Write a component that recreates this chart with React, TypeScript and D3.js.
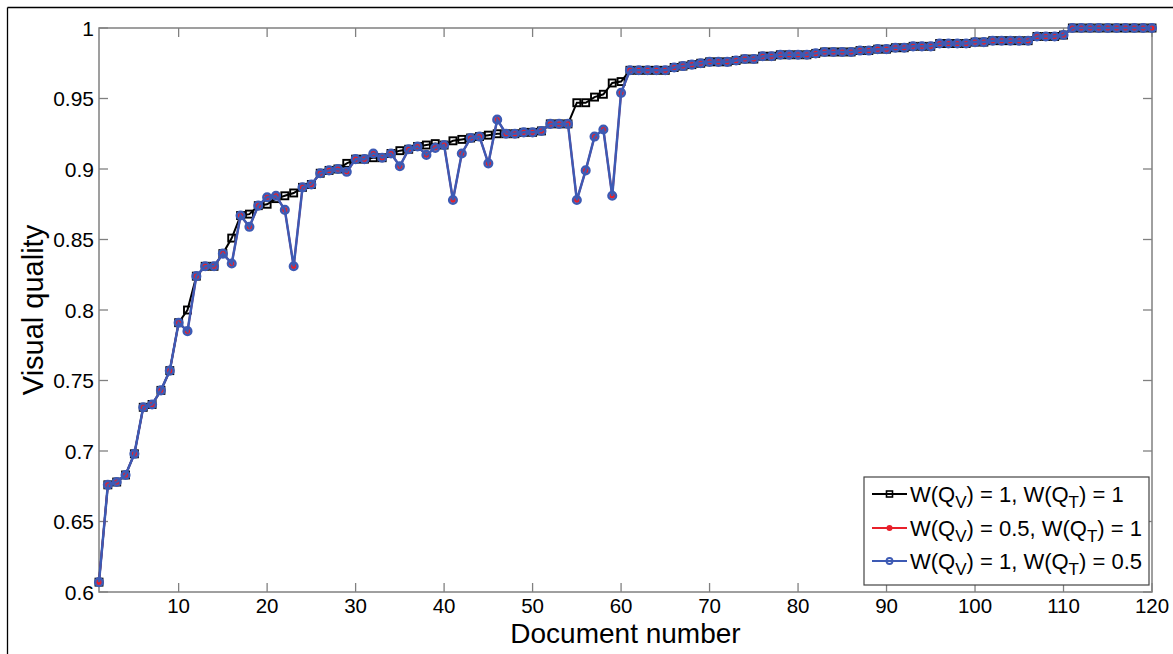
import React from "react";
import * as d3 from "d3";

const documentNumbers: number[] = Array.from({ length: 120 }, (_, i) => i + 1);

const qualityEqual: number[] = [
  0.607, 0.676, 0.678, 0.683, 0.698, 0.731, 0.733, 0.743, 0.757, 0.791,
  0.800, 0.824, 0.831, 0.831, 0.840, 0.851, 0.867, 0.868, 0.874, 0.875,
  0.879, 0.881, 0.883, 0.887, 0.889, 0.897, 0.899, 0.900, 0.904, 0.907,
  0.907, 0.908, 0.908, 0.911, 0.913, 0.914, 0.916, 0.917, 0.918, 0.917,
  0.920, 0.921, 0.922, 0.923, 0.924, 0.925, 0.925, 0.925, 0.926, 0.926,
  0.927, 0.932, 0.932, 0.932, 0.947, 0.947, 0.951, 0.953, 0.961, 0.962,
  0.970, 0.970, 0.970, 0.970, 0.970, 0.972, 0.973, 0.974, 0.975, 0.976,
  0.976, 0.976, 0.977, 0.978, 0.978, 0.980, 0.980, 0.981, 0.981, 0.981,
  0.981, 0.982, 0.983, 0.983, 0.983, 0.983, 0.984, 0.984, 0.985, 0.985,
  0.986, 0.986, 0.987, 0.987, 0.987, 0.989, 0.989, 0.989, 0.989, 0.990,
  0.990, 0.991, 0.991, 0.991, 0.991, 0.991, 0.994, 0.994, 0.994, 0.995,
  1.000, 1.000, 1.000, 1.000, 1.000, 1.000, 1.000, 1.000, 1.000, 1.000,
];

const qualityHalfV: number[] = [
  0.607, 0.676, 0.678, 0.683, 0.698, 0.731, 0.733, 0.743, 0.757, 0.791,
  0.785, 0.824, 0.831, 0.831, 0.840, 0.833, 0.867, 0.859, 0.874, 0.880,
  0.881, 0.871, 0.831, 0.887, 0.889, 0.897, 0.899, 0.900, 0.898, 0.907,
  0.907, 0.911, 0.908, 0.911, 0.902, 0.914, 0.916, 0.910, 0.915, 0.917,
  0.878, 0.911, 0.922, 0.923, 0.904, 0.935, 0.925, 0.925, 0.926, 0.926,
  0.927, 0.932, 0.932, 0.932, 0.878, 0.899, 0.923, 0.928, 0.881, 0.954,
  0.970, 0.970, 0.970, 0.970, 0.970, 0.972, 0.973, 0.974, 0.975, 0.976,
  0.976, 0.976, 0.977, 0.978, 0.978, 0.980, 0.980, 0.981, 0.981, 0.981,
  0.981, 0.982, 0.983, 0.983, 0.983, 0.983, 0.984, 0.984, 0.985, 0.985,
  0.986, 0.986, 0.987, 0.987, 0.987, 0.989, 0.989, 0.989, 0.989, 0.990,
  0.990, 0.991, 0.991, 0.991, 0.991, 0.991, 0.994, 0.994, 0.994, 0.995,
  1.000, 1.000, 1.000, 1.000, 1.000, 1.000, 1.000, 1.000, 1.000, 1.000,
];

const qualityHalfT: number[] = [
  0.607, 0.676, 0.678, 0.683, 0.698, 0.731, 0.733, 0.743, 0.757, 0.791,
  0.785, 0.824, 0.831, 0.831, 0.840, 0.833, 0.867, 0.859, 0.874, 0.880,
  0.881, 0.871, 0.831, 0.887, 0.889, 0.897, 0.899, 0.900, 0.898, 0.907,
  0.907, 0.911, 0.908, 0.911, 0.902, 0.914, 0.916, 0.910, 0.915, 0.917,
  0.878, 0.911, 0.922, 0.923, 0.904, 0.935, 0.925, 0.925, 0.926, 0.926,
  0.927, 0.932, 0.932, 0.932, 0.878, 0.899, 0.923, 0.928, 0.881, 0.954,
  0.970, 0.970, 0.970, 0.970, 0.970, 0.972, 0.973, 0.974, 0.975, 0.976,
  0.976, 0.976, 0.977, 0.978, 0.978, 0.980, 0.980, 0.981, 0.981, 0.981,
  0.981, 0.982, 0.983, 0.983, 0.983, 0.983, 0.984, 0.984, 0.985, 0.985,
  0.986, 0.986, 0.987, 0.987, 0.987, 0.989, 0.989, 0.989, 0.989, 0.990,
  0.990, 0.991, 0.991, 0.991, 0.991, 0.991, 0.994, 0.994, 0.994, 0.995,
  1.000, 1.000, 1.000, 1.000, 1.000, 1.000, 1.000, 1.000, 1.000, 1.000,
];

const xTicks: number[] = [10, 20, 30, 40, 50, 60, 70, 80, 90, 100, 110, 120];
const yTicks: number[] = [0.6, 0.65, 0.7, 0.75, 0.8, 0.85, 0.9, 0.95, 1];
const yTickLabels: string[] = ["0.6", "0.65", "0.7", "0.75", "0.8", "0.85", "0.9", "0.95", "1"];

const legendLabels = [
  { v: "1", t: "1" },
  { v: "0.5", t: "1" },
  { v: "1", t: "0.5" },
];

const W = 1173;
const H = 654;
const L = 99, R = 1152, T = 28, B = 592;
const FONT = "'Liberation Sans', Arial, Helvetica, sans-serif";
const AXIS = "#808080";
const BLACK = "#000000";
const RED = "#e8202a";
const BLUE = "#3d5ab4";

export default function App() {
  const x = d3.scaleLinear().domain([1, 120]).range([L, R]);
  const y = d3.scaleLinear().domain([0.6, 1]).range([B, T]);
  const line = d3
    .line<number>()
    .x((_, i) => x(documentNumbers[i]))
    .y((d) => y(d));

  const tickLen = 9;

  const legendX = 864, legendY = 477, legendW = 285, legendH = 108;
  const rowsY = [494, 528, 561];

  return (
    <svg
      width={W}
      height={H}
      style={{ position: "absolute", left: 0, top: 0, background: "#fff" }}
      fontFamily={FONT}
    >
      <rect x={0} y={0} width={W} height={H} fill="#fff" />
      {/* outer frame */}
      <line x1={7.5} y1={7.5} x2={7.5} y2={H} stroke="#000" strokeWidth={1.3} />
      <line x1={7.5} y1={7.5} x2={W} y2={7.5} stroke="#000" strokeWidth={1.3} />

      {/* axes box */}
      <rect x={L} y={T} width={R - L} height={B - T} fill="#fff" stroke={AXIS} strokeWidth={1.5} />
      {xTicks.map((t) => (
        <g key={"xt" + t}>
          <line x1={x(t)} x2={x(t)} y1={B} y2={B - tickLen} stroke={AXIS} strokeWidth={1.3} />
          <line x1={x(t)} x2={x(t)} y1={T} y2={T + tickLen} stroke={AXIS} strokeWidth={1.3} />
          <text x={x(t)} y={613} textAnchor="middle" fontSize={20.5} fill="#000">
            {t}
          </text>
        </g>
      ))}
      {yTicks.map((t, i) => (
        <g key={"yt" + t}>
          <line x1={L} x2={L + tickLen} y1={y(t)} y2={y(t)} stroke={AXIS} strokeWidth={1.3} />
          <line x1={R} x2={R - tickLen} y1={y(t)} y2={y(t)} stroke={AXIS} strokeWidth={1.3} />
          <text x={94} y={y(t) + 7.5} textAnchor="end" fontSize={21} fill="#000">
            {yTickLabels[i]}
          </text>
        </g>
      ))}

      <text x={(L + R) / 2} y={643} textAnchor="middle" fontSize={28} fill="#000">
        Document number
      </text>
      <text
        transform={`translate(43, ${(T + B) / 2}) rotate(-90)`}
        textAnchor="middle"
        fontSize={29}
        fill="#000"
      >
        Visual quality
      </text>

      {/* black series */}
      <path d={line(qualityEqual) || ""} fill="none" stroke={BLACK} strokeWidth={2} />
      {qualityEqual.map((v, i) => (
        <rect
          key={"bk" + i}
          x={x(documentNumbers[i]) - 3.5}
          y={y(v) - 3.5}
          width={7}
          height={7}
          fill="none"
          stroke={BLACK}
          strokeWidth={1.9}
        />
      ))}

      {/* red series */}
      <path d={line(qualityHalfV) || ""} fill="none" stroke={RED} strokeWidth={2} />
      {qualityHalfV.map((v, i) => (
        <circle key={"rd" + i} cx={x(documentNumbers[i])} cy={y(v)} r={3} fill={RED} />
      ))}

      {/* blue series */}
      <path d={line(qualityHalfT) || ""} fill="none" stroke={BLUE} strokeWidth={2.5} />
      {qualityHalfT.map((v, i) => (
        <circle
          key={"bl" + i}
          cx={x(documentNumbers[i])}
          cy={y(v)}
          r={3.8}
          fill="none"
          stroke={BLUE}
          strokeWidth={2.5}
        />
      ))}

      {/* legend */}
      <rect x={legendX} y={legendY} width={legendW} height={legendH} fill="#fff" stroke="#444" strokeWidth={1.2} />
      {legendLabels.map((lab, i) => {
        const cy = rowsY[i];
        const color = i === 0 ? BLACK : i === 1 ? RED : BLUE;
        return (
          <g key={"lg" + i}>
            <line x1={872} x2={907} y1={cy} y2={cy} stroke={color} strokeWidth={2} />
            {i === 0 && (
              <rect x={889.5 - 3} y={cy - 3} width={6} height={6} fill="none" stroke={BLACK} strokeWidth={1.6} />
            )}
            {i === 1 && <circle cx={889.5} cy={cy} r={3} fill={RED} />}
            {i === 2 && <circle cx={889.5} cy={cy} r={3} fill="none" stroke={BLUE} strokeWidth={1.8} />}
            <text x={910} y={cy + 8} fontSize={22} fill="#000">
              <tspan>W(Q</tspan>
              <tspan fontSize={17} dy={6}>V</tspan>
              <tspan dy={-6}>{`) = ${lab.v}, W(Q`}</tspan>
              <tspan fontSize={17} dy={6}>T</tspan>
              <tspan dy={-6}>{`) = ${lab.t}`}</tspan>
            </text>
          </g>
        );
      })}
    </svg>
  );
}
